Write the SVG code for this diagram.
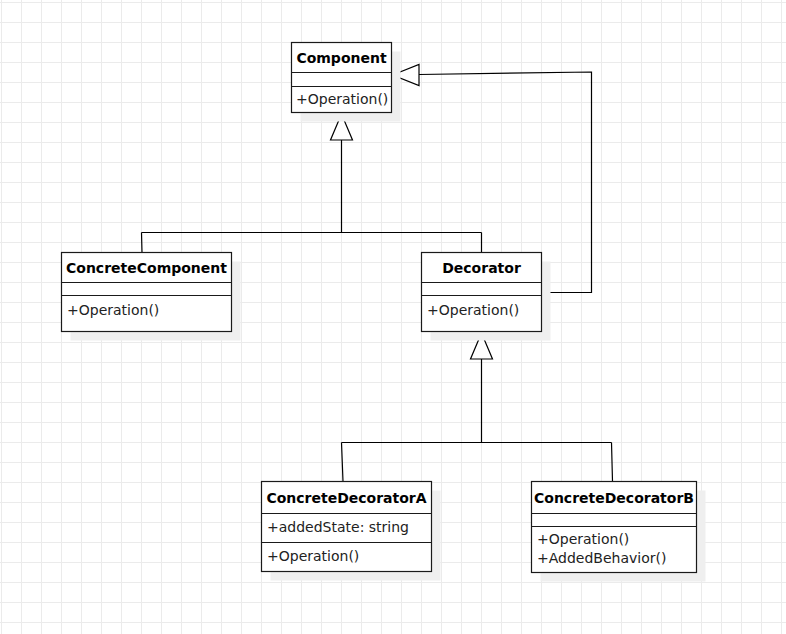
<svg xmlns="http://www.w3.org/2000/svg" width="786" height="634" viewBox="0 0 786 634">
  <defs>
    <pattern id="grid" x="0" y="0" width="20" height="20" patternUnits="userSpaceOnUse">
      <path d="M1.5 0V20M0 2.5H20" stroke="#ebebeb" stroke-width="1" fill="none"/>
    </pattern>
    <style>
      .shadow { fill: #efefef; stroke: none; }
      .box { fill: #ffffff; stroke: #1a1a1a; stroke-width: 1.2; }
      .div { stroke: #1a1a1a; stroke-width: 1.2; fill: none; }
      .title { font-family: "DejaVu Sans", sans-serif; font-size: 14px; font-weight: bold; fill: #000; text-anchor: middle; }
      .member { font-family: "DejaVu Sans", sans-serif; font-size: 14px; fill: #222; }
      .edge { stroke: #000; stroke-width: 1.2; fill: none; }
      .head { fill: #ffffff; stroke: #000; stroke-width: 1.2; }
    </style>
  </defs>

  <rect x="0" y="0" width="786" height="634" fill="#ffffff"/>
  <rect x="0" y="0" width="786" height="634" fill="url(#grid)"/>

  <!-- inheritance connectors -->
  <g id="connectors">
    <!-- ConcreteComponent / Decorator to Component -->
    <path class="edge" d="M141.5 232.5H481.5M141.5 232.5L142 252.5M481.5 232.5V252.5M341.5 232.5V140"/>
    <polygon class="head" points="341.5,114 330.5,140 352.5,140"/>
    <!-- Decorator wraps Component -->
    <path class="edge" d="M541.5 292.5H591.5V72L419 74.5"/>
    <polygon class="head" points="392.5,75 419,64.5 419,85.5"/>
    <!-- Concrete decorators to Decorator -->
    <path class="edge" d="M481.5 359V442.5M341.5 442.5H611.5M341.5 442.5L343 481.5M611.5 442.5L612.5 481.5"/>
    <polygon class="head" points="481.5,333 470.5,359 492.5,359"/>
  </g>

  <g id="component">
    <rect class="shadow" x="300.5" y="51.5" width="100" height="70"/>
    <rect class="box" x="291.5" y="42.5" width="100" height="70"/>
    <path class="div" d="M291.5 72.5H391.5M291.5 86.5H391.5"/>
    <text class="title" x="341.5" y="62.5">Component</text>
    <text class="member" x="296" y="104">+Operation()</text>
  </g>

  <g id="concrete-component">
    <rect class="shadow" x="70.5" y="261.5" width="170" height="79"/>
    <rect class="box" x="61.5" y="252.5" width="170" height="79"/>
    <path class="div" d="M61.5 282.5H231.5M61.5 295.5H231.5"/>
    <text class="title" x="146.5" y="273">ConcreteComponent</text>
    <text class="member" x="67" y="315">+Operation()</text>
  </g>

  <g id="decorator">
    <rect class="shadow" x="430.5" y="261.5" width="120" height="79"/>
    <rect class="box" x="421.5" y="252.5" width="120" height="79"/>
    <path class="div" d="M421.5 282.5H541.5M421.5 295.5H541.5"/>
    <text class="title" x="481.5" y="273">Decorator</text>
    <text class="member" x="427" y="315">+Operation()</text>
  </g>

  <g id="concrete-decorator-a">
    <rect class="shadow" x="270.5" y="490.5" width="170" height="90"/>
    <rect class="box" x="261.5" y="481.5" width="170" height="90"/>
    <path class="div" d="M261.5 513.5H431.5M261.5 542.5H431.5"/>
    <text class="title" x="346.5" y="502.5">ConcreteDecoratorA</text>
    <text class="member" x="267" y="531.5">+addedState: string</text>
    <text class="member" x="267" y="560.5">+Operation()</text>
  </g>

  <g id="concrete-decorator-b">
    <rect class="shadow" x="540.5" y="490.5" width="165" height="91"/>
    <rect class="box" x="531.5" y="481.5" width="165" height="91"/>
    <path class="div" d="M531.5 513.5H696.5M531.5 526.5H696.5"/>
    <text class="title" x="614" y="502.5">ConcreteDecoratorB</text>
    <text class="member" x="537" y="543.5">+Operation()</text>
    <text class="member" x="537" y="562.5">+AddedBehavior()</text>
  </g>
</svg>
